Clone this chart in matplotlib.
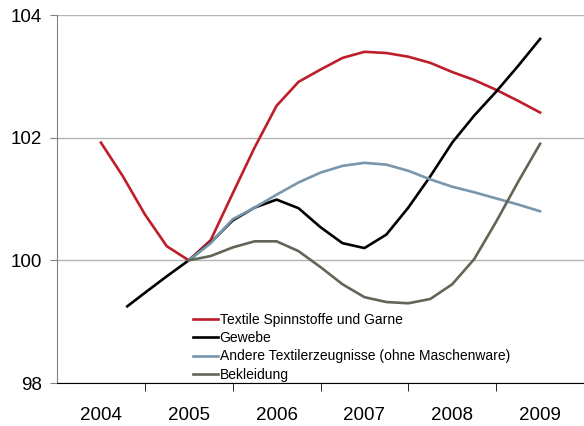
import matplotlib.pyplot as plt
import numpy as np

plt.rcParams['font.family'] = ['Liberation Sans', 'DejaVu Sans']

# year labels (categories), data is quarterly between category centres
years = ['2004', '2005', '2006', '2007', '2008', '2009']

# Textile Spinnstoffe und Garne
t_spinn = [0, 0.25, 0.5, 0.75, 1, 1.25, 1.5, 1.75, 2, 2.25, 2.5, 2.75,
           3, 3.25, 3.5, 3.75, 4, 4.25, 4.5, 4.75, 5]
v_spinn = [101.92, 101.37, 100.75, 100.23, 100.0, 100.33, 101.09, 101.84,
           102.52, 102.91, 103.11, 103.30, 103.40, 103.38, 103.32, 103.22,
           103.07, 102.94, 102.78, 102.60, 102.41]

# Gewebe
t_gewebe = [0.3, 0.5, 0.75, 1, 1.25, 1.5, 1.75, 2, 2.25, 2.5, 2.75,
            3, 3.25, 3.5, 3.75, 4, 4.25, 4.5, 4.75, 5]
v_gewebe = [99.25, 99.47, 99.74, 100.0, 100.29, 100.65, 100.86, 100.99,
            100.85, 100.54, 100.28, 100.20, 100.42, 100.86, 101.37, 101.92,
            102.36, 102.75, 103.17, 103.61]

# Andere Textilerzeugnisse
t_andere = [1, 1.25, 1.5, 1.75, 2, 2.25, 2.5, 2.75, 3, 3.25, 3.5, 3.75,
            4, 4.25, 4.5, 4.75, 5]
v_andere = [100.0, 100.28, 100.67, 100.86, 101.07, 101.27, 101.43, 101.54,
            101.59, 101.56, 101.46, 101.32, 101.20, 101.11, 101.01, 100.91,
            100.80]

# Bekleidung
t_bekl = [1, 1.25, 1.5, 1.75, 2, 2.25, 2.5, 2.75, 3, 3.25, 3.5, 3.75,
          4, 4.25, 4.5, 4.75, 5]
v_bekl = [100.0, 100.07, 100.21, 100.31, 100.31, 100.15, 99.89, 99.61,
          99.40, 99.32, 99.30, 99.37, 99.61, 100.02, 100.63, 101.28, 101.90]

fig = plt.figure(figsize=(5.84, 4.26), dpi=100)
ax = fig.add_axes([57/584, 43/426, 527/584, 368/426])

lw = 1.9
ax.plot(t_spinn, v_spinn, color='#BE1E2A', lw=lw, label='Textile Spinnstoffe und Garne')
ax.plot(t_gewebe, v_gewebe, color='black', lw=lw, label='Gewebe')
ax.plot(t_andere, v_andere, color='#7896AC', lw=lw, label='Andere Textilerzeugnisse (ohne Maschenware)')
ax.plot(t_bekl, v_bekl, color='#626656', lw=lw, label='Bekleidung')

ax.set_xlim(-0.5, 5.5)
ax.set_ylim(98, 104)
ax.set_yticks([98, 100, 102, 104])
ax.set_xticks(np.arange(len(years)))
ax.set_xticklabels(years)
ax.set_xticks(np.arange(0.5, 5, 1), minor=True)
ax.tick_params(axis='x', which='major', length=0, pad=17, labelsize=13.5)
ax.tick_params(axis='x', which='minor', length=6, direction='out', color='black')
ax.tick_params(axis='y', length=5, color='#808080', labelsize=13.5, pad=6)

ax.grid(axis='y', color='#B4B4B4', lw=1)
ax.set_axisbelow(True)
for s in ['top', 'right']:
    ax.spines[s].set_visible(False)
ax.spines['left'].set_color('#808080')
ax.spines['bottom'].set_color('black')

ax.legend(loc='lower left', bbox_to_anchor=(0.256, 0.0), frameon=False,
          fontsize=10, handlelength=1.8, handletextpad=0.1, labelspacing=0.3,
          borderpad=0, borderaxespad=0.1)

fig.savefig('out.png')
